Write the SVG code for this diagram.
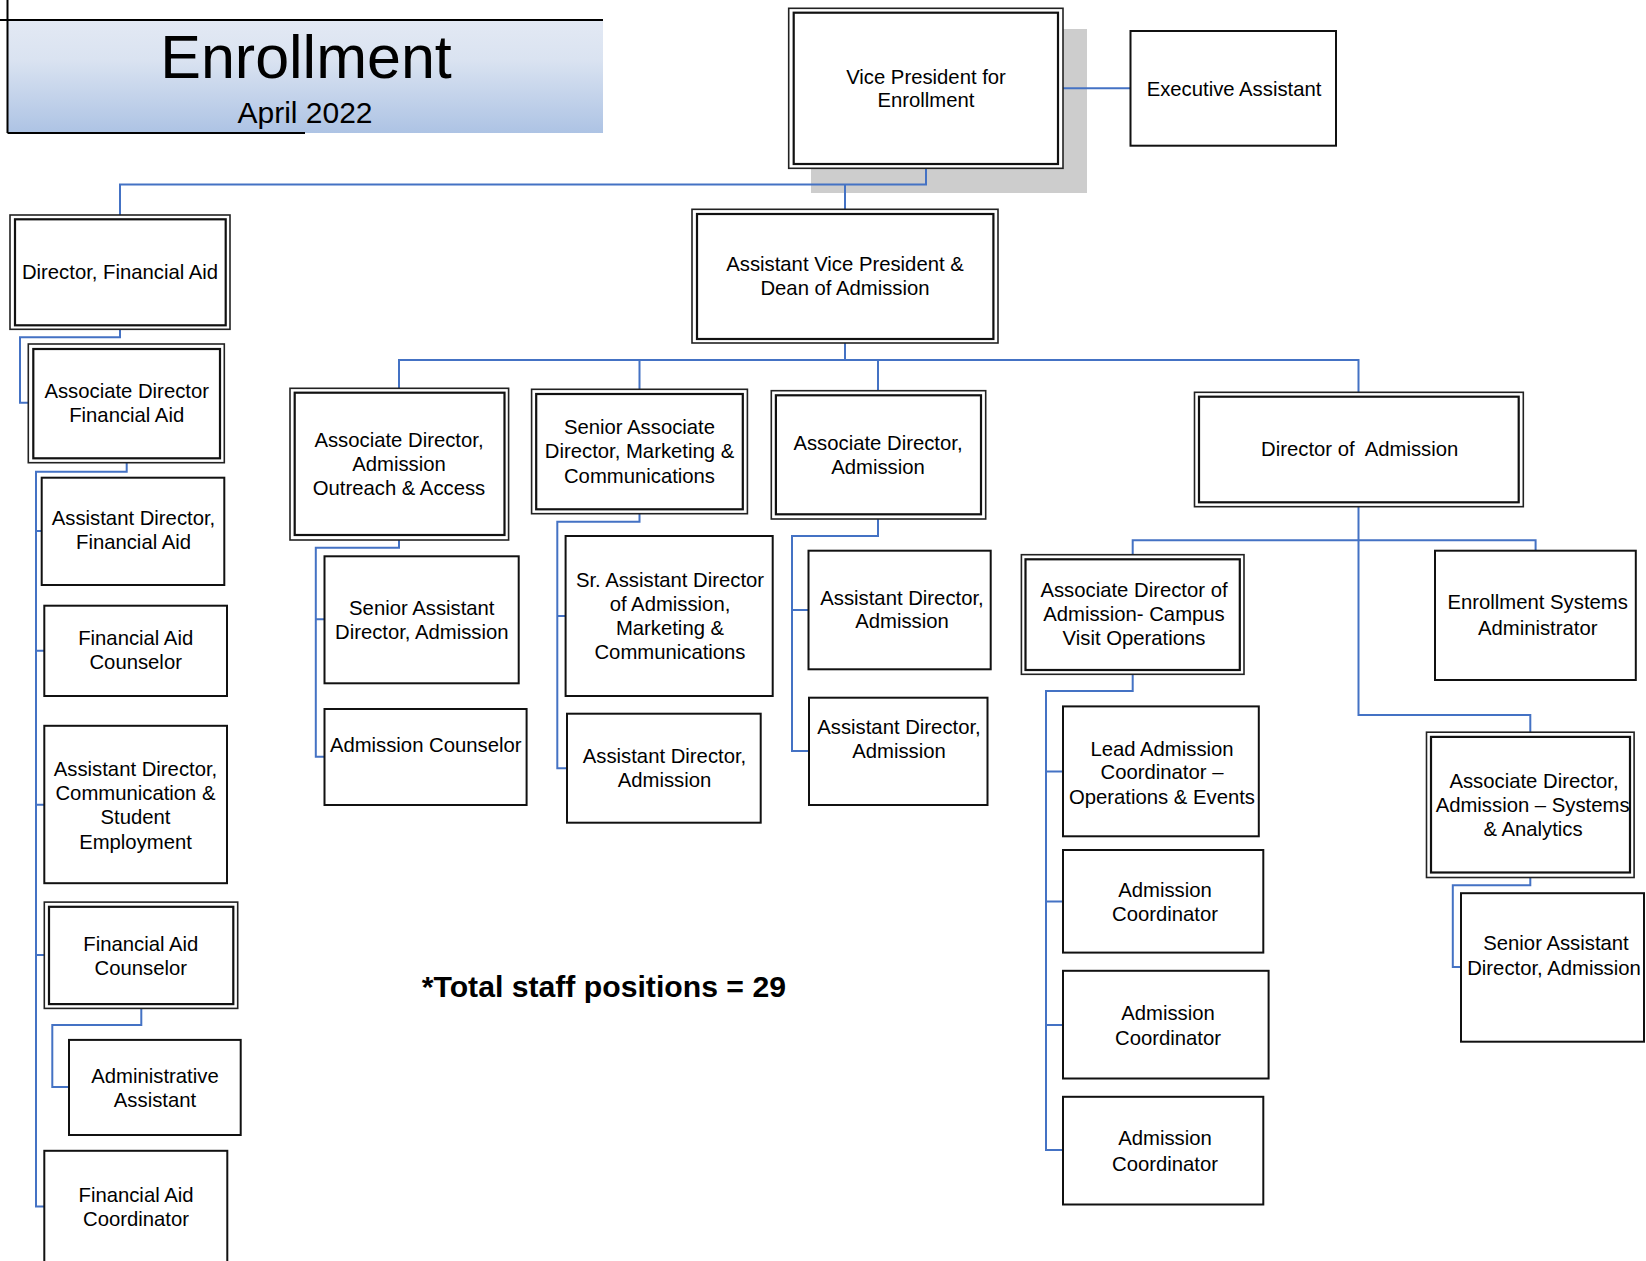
<svg xmlns="http://www.w3.org/2000/svg" width="1646" height="1261" viewBox="0 0 1646 1261">
<defs>
<linearGradient id="tg" x1="0" y1="0" x2="0" y2="1">
<stop offset="0" stop-color="#e3e9f4"/>
<stop offset="0.35" stop-color="#dae3f1"/>
<stop offset="1" stop-color="#adc3e4"/>
</linearGradient>
<style>
.box{fill:#fff;stroke:#111;stroke-width:2}
.outer{fill:#fff;stroke:#222;stroke-width:1.6}
.inner{fill:none;stroke:#111;stroke-width:2.2}
.t{font-family:"Liberation Sans",Arial,sans-serif;font-size:20.3px;fill:#000;text-anchor:middle}
.c{fill:none;stroke:#4472c4;stroke-width:2}
.ln{fill:none;stroke:#000;stroke-width:2}
</style>
</defs>
<rect width="1646" height="1261" fill="#fff"/>

<g id="title">
<rect x="8" y="20" width="595" height="113" fill="url(#tg)"/>
<path class="ln" d="M0,20 H603 M7.5,0 V133 M7.5,133 H305"/>
<text x="306" y="78" style="font-family:'Liberation Sans',Arial,sans-serif;font-size:61px;text-anchor:middle">Enrollment</text>
<text x="305" y="122.7" style="font-family:'Liberation Sans',Arial,sans-serif;font-size:30px;text-anchor:middle">April 2022</text>
</g>

<rect x="811" y="29" width="276" height="164" fill="#cdcdcd"/>

<g id="connectors">
<path class="c" d="M926,168 V184.5 H120 V215"/>
<path class="c" d="M845,184.5 V209"/>
<path class="c" d="M1063,88.3 H1130.5"/>
<path class="c" d="M120,329 V337.3 H20 V402.7 H28.3"/>
<path class="c" d="M126.7,462.7 V471.7 H36 V1206.6 H44.3 M36,531 H41.7 M36,650.7 H44.3 M36,804.8 H44.3 M36,955 H44.3"/>
<path class="c" d="M141.3,1008.4 V1024.9 H52.3 V1087.1 H69"/>
<path class="c" d="M845,343 V360 M399,388 V360 H1358.5 V392 M639.5,360 V389 M878,360 V391"/>
<path class="c" d="M399,540 V547.7 H315.8 V756.7 H324.5 M315.8,619.3 H324.5"/>
<path class="c" d="M639.5,513.7 V521.7 H557.3 V768.3 H567 M557.3,616 H565.6"/>
<path class="c" d="M878,519 V536 H792 V751 H809 M792,610 H808.5"/>
<path class="c" d="M1358.5,506.7 V715 H1530.3 V732.2 M1132.7,554.7 V540.3 H1535.6 V550.7"/>
<path class="c" d="M1132.7,674.3 V691 H1046 V1150 H1063 M1046,771.6 H1063 M1046,901.4 H1063 M1046,1024.9 H1063"/>
<path class="c" d="M1530.3,877.5 V885.3 H1452.8 V966.9 H1461"/>
</g>

<g id="vp">
<rect class="outer" x="788.7" y="8.3" width="274.3" height="160"/>
<rect class="inner" x="793.7" y="12.7" width="264.3" height="151.3"/>
<text class="t" x="926" y="83.5">Vice President for</text>
<text class="t" x="926" y="106.7">Enrollment</text>
</g>

<g id="exec">
<rect class="box" x="1130.5" y="31" width="205.5" height="114.7"/>
<text class="t" x="1234" y="95.5">Executive Assistant</text>
</g>

<g id="avp">
<rect class="outer" x="692" y="209.3" width="306" height="133.7"/>
<rect class="inner" x="697" y="214" width="296.4" height="125"/>
<text class="t" x="845" y="270.5">Assistant Vice President &amp;</text>
<text class="t" x="845" y="295">Dean of Admission</text>
</g>

<g id="dir-fa">
<rect class="outer" x="10" y="215" width="220" height="114.3"/>
<rect class="inner" x="15" y="219.3" width="210.7" height="106"/>
<text class="t" x="120" y="279">Director, Financial Aid</text>
</g>

<g id="assoc-fa">
<rect class="outer" x="28.3" y="344" width="196" height="118.7"/>
<rect class="inner" x="33.3" y="349" width="186.7" height="109.3"/>
<text class="t" x="126.7" y="398.3">Associate Director</text>
<text class="t" x="126.7" y="421.7">Financial Aid</text>
</g>

<g id="asst-fa">
<rect class="box" x="41.7" y="477.7" width="182.6" height="107.3"/>
<text class="t" x="133.5" y="525">Assistant Director,</text>
<text class="t" x="133.5" y="549.3">Financial Aid</text>
</g>

<g id="fa-counselor-1">
<rect class="box" x="44.3" y="605.7" width="182.7" height="90.3"/>
<text class="t" x="135.7" y="645">Financial Aid</text>
<text class="t" x="135.7" y="669.3">Counselor</text>
</g>

<g id="asst-comm">
<rect class="box" x="44.3" y="725.8" width="182.7" height="157.4"/>
<text class="t" x="135.5" y="775.8">Assistant Director,</text>
<text class="t" x="135.5" y="799.8">Communication &amp;</text>
<text class="t" x="135.5" y="823.8">Student</text>
<text class="t" x="135.5" y="848.5">Employment</text>
</g>

<g id="fa-counselor-2">
<rect class="outer" x="44.3" y="902.1" width="193.4" height="106.3"/>
<rect class="inner" x="49" y="906.8" width="184.3" height="97.3"/>
<text class="t" x="140.8" y="951.2">Financial Aid</text>
<text class="t" x="140.8" y="974.8">Counselor</text>
</g>

<g id="admin-asst">
<rect class="box" x="69" y="1039.9" width="171.7" height="95.1"/>
<text class="t" x="155" y="1082.8">Administrative</text>
<text class="t" x="155" y="1106.8">Assistant</text>
</g>

<g id="fa-coord">
<rect class="box" x="44.3" y="1150.8" width="183" height="124"/>
<text class="t" x="136" y="1201.6">Financial Aid</text>
<text class="t" x="136" y="1226">Coordinator</text>
</g>

<g id="outreach">
<rect class="outer" x="290" y="388.3" width="218.6" height="151.7"/>
<rect class="inner" x="294.7" y="392.7" width="209.8" height="142.3"/>
<text class="t" x="399" y="446.7">Associate Director,</text>
<text class="t" x="399" y="470.7">Admission</text>
<text class="t" x="399" y="495">Outreach &amp; Access</text>
</g>

<g id="marketing">
<rect class="outer" x="531.6" y="389.3" width="215.8" height="124.4"/>
<rect class="inner" x="536.2" y="394" width="206.6" height="115.3"/>
<text class="t" x="639.5" y="434.3">Senior Associate</text>
<text class="t" x="639.5" y="458.3">Director, Marketing &amp;</text>
<text class="t" x="639.5" y="483.3">Communications</text>
</g>

<g id="assoc-adm">
<rect class="outer" x="771.3" y="390.7" width="214.4" height="128.3"/>
<rect class="inner" x="775.9" y="395.3" width="205.1" height="119"/>
<text class="t" x="878" y="450">Associate Director,</text>
<text class="t" x="878" y="474">Admission</text>
</g>

<g id="sr-asst-left">
<rect class="box" x="324.5" y="556.3" width="194.2" height="127"/>
<text class="t" x="421.8" y="615">Senior Assistant</text>
<text class="t" x="421.8" y="639.3">Director, Admission</text>
</g>

<g id="adm-counselor">
<rect class="box" x="324.5" y="709" width="202.1" height="96"/>
<text class="t" x="425.7" y="751.7">Admission Counselor</text>
</g>

<g id="sr-asst-mkt">
<rect class="box" x="565.6" y="536" width="207.1" height="160"/>
<text class="t" x="670" y="586.7">Sr. Assistant Director</text>
<text class="t" x="670" y="610.7">of Admission,</text>
<text class="t" x="670" y="635">Marketing &amp;</text>
<text class="t" x="670" y="659.3">Communications</text>
</g>

<g id="asst-adm-mkt">
<rect class="box" x="567" y="713.7" width="193.7" height="109"/>
<text class="t" x="664.5" y="763.3">Assistant Director,</text>
<text class="t" x="664.5" y="787.3">Admission</text>
</g>

<g id="asst-adm-1">
<rect class="box" x="808.5" y="550.7" width="182.2" height="118.6"/>
<text class="t" x="902" y="605">Assistant Director,</text>
<text class="t" x="902" y="628.3">Admission</text>
</g>

<g id="asst-adm-2">
<rect class="box" x="809" y="697.7" width="178.5" height="107.3"/>
<text class="t" x="899" y="734.3">Assistant Director,</text>
<text class="t" x="899" y="758.3">Admission</text>
</g>

<g id="dir-adm">
<rect class="outer" x="1194.5" y="392.3" width="328.8" height="114.4"/>
<rect class="inner" x="1199" y="396.7" width="319.7" height="105.6"/>
<text class="t" x="1359.7" y="456">Director of&#160; Admission</text>
</g>

<g id="campus">
<rect class="outer" x="1021.4" y="554.7" width="222.6" height="119.6"/>
<rect class="inner" x="1025.5" y="559.3" width="214.3" height="110.7"/>
<text class="t" x="1134" y="596.7">Associate Director of</text>
<text class="t" x="1134" y="620.7">Admission- Campus</text>
<text class="t" x="1134" y="645">Visit Operations</text>
</g>

<g id="enroll-sys">
<rect class="box" x="1435" y="550.7" width="200.8" height="129.3"/>
<text class="t" x="1537.7" y="609.3">Enrollment Systems</text>
<text class="t" x="1537.7" y="635">Administrator</text>
</g>

<g id="lead-coord">
<rect class="box" x="1063" y="706.4" width="195.8" height="129.9"/>
<text class="t" x="1162" y="755.5">Lead Admission</text>
<text class="t" x="1162" y="779.4">Coordinator –</text>
<text class="t" x="1162" y="803.8">Operations &amp; Events</text>
</g>

<g id="adm-coord-1">
<rect class="box" x="1063" y="850" width="200.3" height="102.6"/>
<text class="t" x="1165" y="896.8">Admission</text>
<text class="t" x="1165" y="921">Coordinator</text>
</g>

<g id="adm-coord-2">
<rect class="box" x="1063" y="970.8" width="205.6" height="107.7"/>
<text class="t" x="1168" y="1019.5">Admission</text>
<text class="t" x="1168" y="1044.5">Coordinator</text>
</g>

<g id="adm-coord-3">
<rect class="box" x="1063" y="1096.8" width="200.3" height="107.7"/>
<text class="t" x="1165" y="1145.4">Admission</text>
<text class="t" x="1165" y="1170.5">Coordinator</text>
</g>

<g id="systems">
<rect class="outer" x="1426.5" y="732.2" width="207.6" height="145.3"/>
<rect class="inner" x="1431" y="736.9" width="199" height="135.6"/>
<text class="t" x="1534" y="787.7">Associate Director,</text>
<text class="t" x="1532.6" y="811.6">Admission – Systems</text>
<text class="t" x="1533" y="836">&amp; Analytics</text>
</g>

<g id="sr-asst-right">
<rect class="box" x="1461" y="893.2" width="183" height="148.5"/>
<text class="t" x="1556" y="950.4">Senior Assistant</text>
<text class="t" x="1554" y="974.8">Director, Admission</text>
</g>

<text x="421.7" y="996.7" style="font-family:'Liberation Sans',Arial,sans-serif;font-size:30.2px;font-weight:bold">*Total staff positions = 29</text>
</svg>
